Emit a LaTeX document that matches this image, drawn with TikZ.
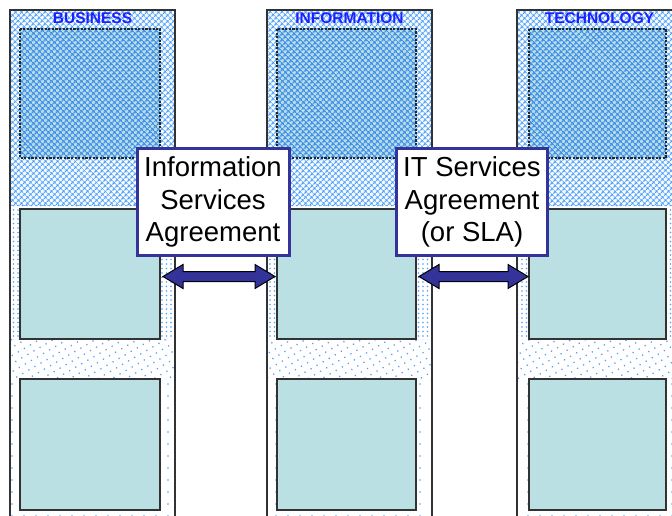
\documentclass[tikz,border=0pt]{standalone}
\usepackage{fontspec}
\setmainfont{Liberation Sans}
\usetikzlibrary{patterns.meta}
\definecolor{teal1}{RGB}{186,224,227}
\definecolor{navy1}{RGB}{51,51,153}
\definecolor{patblue}{RGB}{80,160,250}
\definecolor{boxblue}{RGB}{70,145,235}
\definecolor{hdrblue}{RGB}{30,30,255}
\definecolor{frame1}{RGB}{50,50,50}
\begin{document}
\begin{tikzpicture}[x=1pt,y=-1pt,
  hatchbg/.style={pattern={Hatch[distance=4pt,angle=45,line width=1.2pt]},pattern color=patblue},
  dotsA/.style={pattern={Dots[distance=4.5pt,radius=0.8pt]},pattern color=patblue},
  dotsB/.style={pattern={Dots[distance=7pt,angle=30,radius=0.9pt]},pattern color=patblue},
  dotsC/.style={pattern={Dots[distance=12pt,radius=0.9pt]},pattern color=patblue},
  colframe/.style={draw=frame1,line width=1.6pt},
  topbox/.style={preaction={fill=teal1},pattern={Hatch[distance=4pt,angle=45,line width=1.5pt]},pattern color=boxblue,draw=black!85,line width=1.8pt,dash pattern=on 2.2pt off 1.4pt},
  plainbox/.style={fill=teal1,draw=frame1,line width=1.8pt},
  hdr/.style={font=\bfseries\fontsize{15.5}{16}\selectfont,text=hdrblue,inner sep=0pt},
  callout/.style={draw=navy1,line width=3pt,fill=white,align=center,inner sep=0pt,
    font=\fontsize{27.5}{32.5}\selectfont,minimum height=107pt},
  fatarrow/.style={fill=navy1,draw=black,line width=1pt,line join=miter}
]
\useasboundingbox (0,0) rectangle (672,516);
\clip (0,0) rectangle (672,516);
\fill[white] (0,0) rectangle (672,516);

\foreach \L/\B/\W/\T in {10/20/140/BUSINESS, 267/277/139/INFORMATION, 517/529/137/TECHNOLOGY}{
  \path[hatchbg] (\L,10) rectangle ++(165,195);
  \path[dotsA] (\L,205) rectangle ++(165,134);
  \path[dotsB] (\L,339) rectangle ++(165,40);
  \path[dotsC] (\L,379) rectangle ++(165,160);
  \draw[colframe] (\L,540) -- (\L,10) -- ++(165,0) -- ++(0,530);
  \node[hdr] (hdr-\T) at (\L+82.5,18) {\T};
  \draw[topbox] (\B,29) rectangle ++(\W,129);
  \draw[plainbox] (\B,209) rectangle ++(\W,130);
  \draw[plainbox] (\B,379) rectangle ++(\W,131);
}

\foreach \a/\b in {163/275, 419/528}{
  \draw[fatarrow] (\a,276.5) -- (\a+20,264.5) -- (\a+20,271.5) -- (\b-20,271.5) -- (\b-20,264.5)
    -- (\b,276.5) -- (\b-20,288.5) -- (\b-20,281.5) -- (\a+20,281.5) -- (\a+20,288.5) -- cycle;
}

\node[callout,minimum width=152pt] (isa) at (213,202) {Information\\Services\\Agreement};
\node[callout,minimum width=151pt] (itsa) at (472,202) {IT Services\\Agreement\\(or SLA)};
\end{tikzpicture}
\end{document}
